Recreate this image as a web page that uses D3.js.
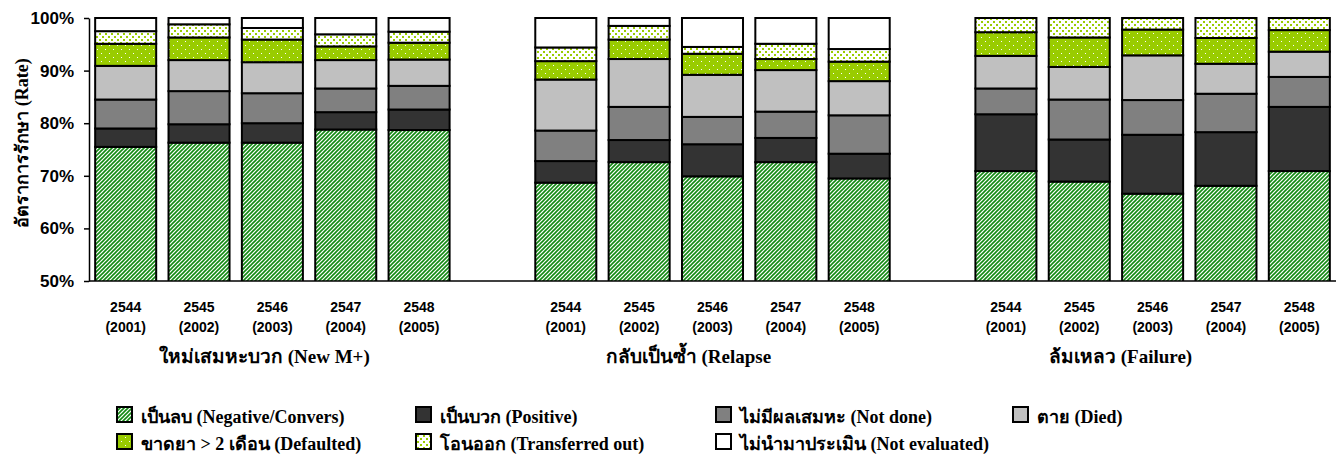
<!DOCTYPE html>
<html>
<head>
<meta charset="utf-8">
<script src="https://cdn.jsdelivr.net/npm/d3@7"></script>
<style>
  html, body { margin: 0; padding: 0; background: #fff; }
  svg { display: block; }
</style>
</head>
<body>
<svg id="chart" width="1344" height="461"></svg>
<script>
// ---------- DATA ----------
const groups = ["ใหม่เสมหะบวก (New M+)", "กลับเป็นซ้ำ (Relapse", "ล้มเหลว (Failure)"];
const yearsThai = ["2544", "2545", "2546", "2547", "2548"];
const yearsAD = ["(2001)", "(2002)", "(2003)", "(2004)", "(2005)"];
const seriesNames = [
  "เป็นลบ (Negative/Convers)",
  "เป็นบวก (Positive)",
  "ไม่มีผลเสมหะ (Not done)",
  "ตาย (Died)",
  "ขาดยา > 2 เดือน (Defaulted)",
  "โอนออก (Transferred out)",
  "ไม่นำมาประเมิน (Not evaluated)"
];
// values per bar: New M+ 2544..2548, Relapse 2544..2548, Failure 2544..2548 (percent)
const negative    = [75.5, 76.3, 76.3, 78.8, 78.7,  68.7, 72.6, 69.9, 72.6, 69.5,  70.9, 68.9, 66.6, 68.1, 70.9];
const positive    = [ 3.5,  3.5,  3.7,  3.3,  3.9,   4.1,  4.2,  6.1,  4.6,  4.7,  10.8,  8.0, 11.2, 10.2, 12.2];
const notDone     = [ 5.5,  6.3,  5.7,  4.5,  4.5,   5.8,  6.3,  5.2,  5.0,  7.3,   4.9,  7.6,  6.6,  7.3,  5.7];
const died        = [ 6.4,  5.9,  5.9,  5.4,  5.0,   9.7,  9.1,  8.0,  7.9,  6.5,   6.2,  6.2,  8.5,  5.7,  4.8];
const defaulted   = [ 4.2,  4.3,  4.3,  2.6,  3.2,   3.5,  3.7,  4.0,  2.1,  3.7,   4.5,  5.6,  4.9,  4.9,  4.1];
const transferred = [ 2.4,  2.5,  2.2,  2.3,  2.1,   2.6,  2.6,  1.3,  2.9,  2.4,   2.7,  3.7,  2.2,  3.8,  2.3];
const notEval     = [ 2.5,  1.2,  1.9,  3.1,  2.6,   5.6,  1.5,  5.5,  4.9,  5.9,   0.0,  0.0,  0.0,  0.0,  0.0];
const yTicks = [50, 60, 70, 80, 90, 100];

(function () {
const seriesValues = [negative, positive, notDone, died, defaulted, transferred, notEval];
const seriesFills = ["url(#pNeg)", "#333333", "#808080", "#C0C0C0", "url(#pDef)", "url(#pTr)", "#FFFFFF"];

// slots: 5 bars, blank, 5 bars, blank, 5 bars
const slots = [];
const bars = [];
groups.forEach((g, gi) => {
  yearsThai.forEach((yr, yi) => {
    const key = gi + "-" + yi;
    slots.push(key);
    const idx = gi * 5 + yi;
    let acc = 0;
    const segs = seriesValues.map((arr, si) => {
      const s = { si, key, y0: acc, y1: acc + arr[idx] };
      acc += arr[idx];
      return s;
    });
    bars.push({ key, gi, yi, segs });
  });
  if (gi < groups.length - 1) slots.push("blank" + gi);
});

const svg = d3.select("#chart");
const defs = svg.append("defs");

const pNeg = defs.append("pattern").attr("id", "pNeg").attr("patternUnits", "userSpaceOnUse")
  .attr("width", 4).attr("height", 4);
pNeg.append("rect").attr("width", 4).attr("height", 4).attr("fill", "#fff");
pNeg.append("path").attr("d", "M-1,1 L1,-1 M0,4 L4,0 M3,5 L5,3")
  .attr("stroke", "#138a13").attr("stroke-width", 1.6);

const pDef = defs.append("pattern").attr("id", "pDef").attr("patternUnits", "userSpaceOnUse")
  .attr("width", 8).attr("height", 8);
pDef.append("rect").attr("width", 8).attr("height", 8).attr("fill", "#99CC00");
pDef.append("rect").attr("x", 1).attr("y", 1).attr("width", 1).attr("height", 1).attr("fill", "#fff");
pDef.append("rect").attr("x", 5).attr("y", 5).attr("width", 1).attr("height", 1).attr("fill", "#fff");

const pTr = defs.append("pattern").attr("id", "pTr").attr("patternUnits", "userSpaceOnUse")
  .attr("width", 6).attr("height", 6);
pTr.append("rect").attr("width", 6).attr("height", 6).attr("fill", "#fff");
pTr.append("rect").attr("x", 0).attr("y", 0).attr("width", 2).attr("height", 2).attr("fill", "#99CC00");
pTr.append("rect").attr("x", 3).attr("y", 3).attr("width", 2).attr("height", 2).attr("fill", "#99CC00");

const mLeft = 89, mRight = 1336, mTop = 18, mBottom = 281;

const x = d3.scaleBand().domain(slots).range([mLeft, mRight]).paddingInner(0.168).paddingOuter(0.084);
const y = d3.scaleLinear().domain([50, 100]).range([mBottom, mTop]);

defs.append("clipPath").attr("id", "plotClip").append("rect")
  .attr("x", mLeft - 5).attr("y", 0).attr("width", mRight - mLeft + 10).attr("height", mBottom);

const plot = svg.append("g").attr("clip-path", "url(#plotClip)");
const barG = plot.selectAll("g.bar").data(bars).enter().append("g").attr("class", "bar");
barG.selectAll("rect").data(d => d.segs.filter(s => s.y1 - s.y0 > 0)).enter().append("rect")
  .attr("x", s => x(s.key))
  .attr("width", x.bandwidth())
  .attr("y", s => y(s.y1))
  .attr("height", s => y(s.y0) - y(s.y1))
  .attr("fill", s => seriesFills[s.si])
  .attr("stroke", "#000")
  .attr("stroke-width", 2);

const yAxis = d3.axisLeft(y).tickValues(yTicks).tickFormat(d => d + "%").tickSize(5).tickSizeOuter(0).tickPadding(10);
const yg = svg.append("g").attr("transform", `translate(${mLeft},0)`).call(yAxis);
yg.select(".domain").attr("stroke", "#000").attr("stroke-width", 1.5);
yg.selectAll(".tick line").attr("stroke", "#000").attr("stroke-width", 1.5);
yg.selectAll(".tick text").attr("fill", "#000")
  .style("font-family", "'Liberation Sans', Arial, sans-serif")
  .style("font-weight", "bold").style("font-size", "17px");

svg.append("line").attr("x1", mLeft).attr("x2", mRight).attr("y1", mBottom).attr("y2", mBottom)
  .attr("stroke", "#000").attr("stroke-width", 1.5);

const xl = svg.append("g").style("font-family", "'Liberation Sans', Arial, sans-serif")
  .style("font-weight", "bold").style("font-size", "14px").attr("fill", "#000");
bars.forEach(b => {
  const cx = x(b.key) + x.bandwidth() / 2;
  xl.append("text").attr("x", cx).attr("y", 311.5).attr("text-anchor", "middle").text(yearsThai[b.yi]);
  xl.append("text").attr("x", cx).attr("y", 331.5).attr("text-anchor", "middle").text(yearsAD[b.yi]);
});

const titleOffsets = [-8, -24, -32];
const gt = svg.append("g").style("font-family", "'Liberation Serif', 'Times New Roman', serif")
  .style("font-weight", "bold").style("font-size", "19px").attr("fill", "#000");
groups.forEach((g, gi) => {
  const mid = x(gi + "-2") + x.bandwidth() / 2;
  gt.append("text").attr("x", mid + titleOffsets[gi]).attr("y", 363).attr("text-anchor", "middle").text(g);
});

svg.append("text").attr("transform", "translate(28,143) rotate(-90)")
  .attr("text-anchor", "middle")
  .style("font-family", "'Liberation Serif', 'Times New Roman', serif")
  .style("font-weight", "bold").style("font-size", "18px").text("อัตราการรักษา (Rate)");

const legCols = [116, 415, 715, 1012];
const legRows = [406, 433];
const leg = svg.append("g");
seriesNames.forEach((name, i) => {
  const col = i < 4 ? i : i - 4;
  const row = i < 4 ? 0 : 1;
  const lx = legCols[col], ly = legRows[row];
  leg.append("rect").attr("x", lx + 1).attr("y", ly + 1).attr("width", 15).attr("height", 15)
    .attr("fill", seriesFills[i]).attr("stroke", "#000").attr("stroke-width", 2);
  leg.append("text").attr("x", lx + 25).attr("y", ly + 17)
    .style("font-family", "'Liberation Serif', 'Times New Roman', serif")
    .style("font-weight", "bold").style("font-size", "18px").text(name);
});
})();
</script>
</body>
</html>
